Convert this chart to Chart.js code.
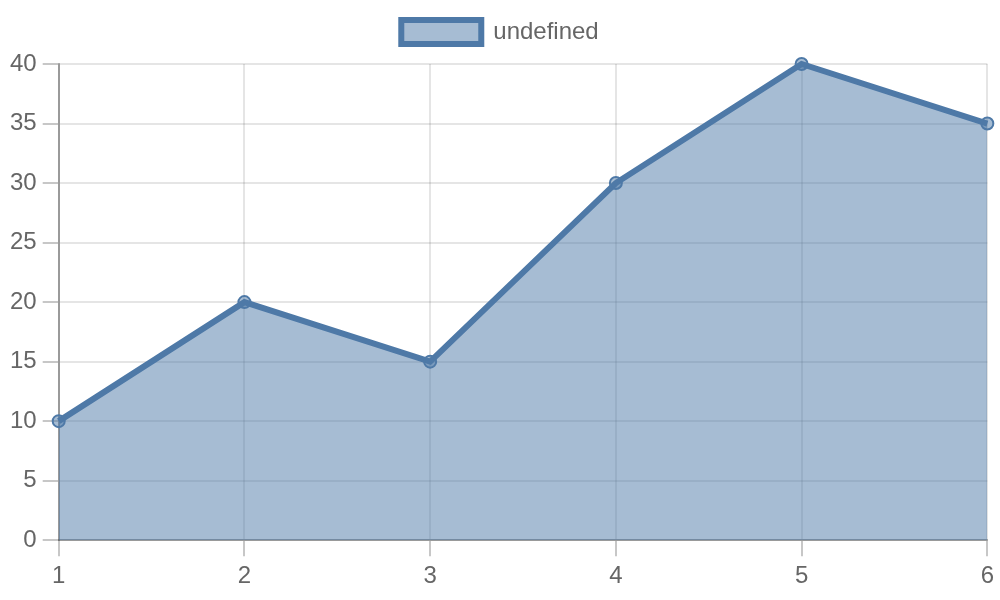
<!DOCTYPE html>
<html>
<head>
<meta charset="utf-8">
<script src="https://cdn.jsdelivr.net/npm/chart.js@4"></script>
<style>
  html, body { margin: 0; padding: 0; background: #fff; }
</style>
</head>
<body>
<canvas id="chart" width="1000" height="600"></canvas>
<script>
const labels = ["1", "2", "3", "4", "5", "6"];
const values = [10, 20, 15, 30, 40, 35];
const seriesName = undefined;

const ctx = document.getElementById("chart").getContext("2d");

Chart.defaults.font.size = 24;
Chart.defaults.color = "#666";

// a bit more room under the legend
const legendMargin = {
    id: 'legendMargin',
    beforeInit(chart) {
        const fit = chart.legend.fit;
        chart.legend.fit = function () {
            fit.bind(chart.legend)();
            this.height += 10;
        };
    }
};

new Chart(ctx, {
    type: 'line',
    data: {
        labels: labels,
        datasets: [{
            label: seriesName,
            data: values,
            fill: true,
            borderColor: "#4e79a7",
            backgroundColor: "rgba(78,121,167,0.5)",
            borderWidth: 6,
            pointRadius: 6,
            pointBorderWidth: 2,
            tension: 0
        }]
    },
    options: {
        responsive: false,
        animation: false,
        devicePixelRatio: 1,
        layout: { padding: { bottom: 3 } },
        plugins: {
            legend: {
                labels: { boxWidth: 80, padding: 20 }
            }
        },
        scales: {
            x: {
                grid: { lineWidth: 2, tickLength: 16, tickColor: "rgba(0,0,0,0.22)" },
                border: { width: 2, color: "rgba(0,0,0,0.33)" },
                ticks: { padding: 6 }
            },
            y: {
                beginAtZero: true,
                grid: { lineWidth: 2, tickLength: 16, tickColor: "rgba(0,0,0,0.22)" },
                border: { width: 2, color: "rgba(0,0,0,0.33)" },
                ticks: { padding: 6 },
                afterFit: (scale) => { scale.width += 4; }
            }
        }
    },
    plugins: [legendMargin]
});
</script>
</body>
</html>
